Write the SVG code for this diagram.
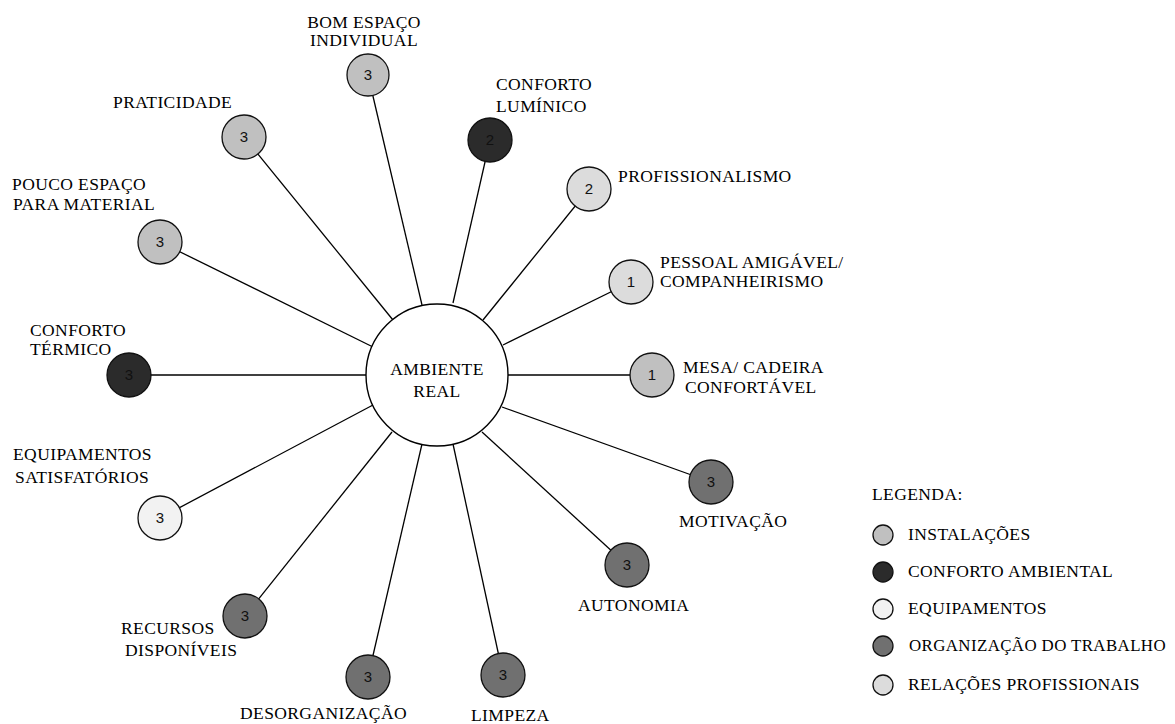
<svg xmlns="http://www.w3.org/2000/svg" width="1175" height="724" viewBox="0 0 1175 724">
  <style>
    .lbl { font-family: "Liberation Serif", "Times New Roman", serif; font-size: 17.5px; letter-spacing: 0.4px; fill: #000; }
    .num { font-family: "Liberation Sans", Arial, sans-serif; font-size: 15px; fill: #111; text-anchor: middle; }
    .node { stroke: #111; stroke-width: 1.3; }
    .inst { fill: #c0c0c0; }
    .conf { fill: #2b2b2b; }
    .equi { fill: #f2f2f2; }
    .orga { fill: #707070; }
    .rela { fill: #dcdcdc; }
    .link { stroke: #000; stroke-width: 1.3; fill: none; }
    .mid { text-anchor: middle; }
  </style>
  <rect width="1175" height="724" fill="#fff"/>

  <!-- spokes from the central circle to each factor -->
  <g id="connectors">
    <line class="link" x1="368" y1="75" x2="422" y2="305"/>
    <line class="link" x1="490" y1="140" x2="453" y2="303"/>
    <line class="link" x1="589" y1="189" x2="483" y2="320"/>
    <line class="link" x1="631" y1="282" x2="503" y2="345"/>
    <line class="link" x1="652" y1="375" x2="507" y2="375"/>
    <line class="link" x1="711" y1="482" x2="502" y2="407"/>
    <line class="link" x1="627" y1="565" x2="482" y2="432"/>
    <line class="link" x1="503" y1="675" x2="453" y2="444"/>
    <line class="link" x1="368" y1="677" x2="422" y2="444"/>
    <line class="link" x1="245" y1="616" x2="392" y2="432"/>
    <line class="link" x1="160" y1="518" x2="373" y2="405"/>
    <line class="link" x1="129" y1="375" x2="367" y2="375"/>
    <line class="link" x1="160" y1="242" x2="373" y2="347"/>
    <line class="link" x1="244" y1="137" x2="393" y2="320"/>
  </g>

  <g id="ambiente-real">
    <circle cx="437" cy="375" r="71" fill="#fff" stroke="#000" stroke-width="1.4"/>
    <text class="lbl mid" x="437" y="375">AMBIENTE</text>
    <text class="lbl mid" x="437" y="397">REAL</text>
  </g>

  <g id="bom-espaco">
    <circle class="node inst" cx="368" cy="75" r="21"/>
    <text class="num" x="368" y="80">3</text>
    <text class="lbl mid" x="364" y="28">BOM ESPAÇO</text>
    <text class="lbl mid" x="364" y="46">INDIVIDUAL</text>
  </g>

  <g id="conforto-luminico">
    <circle class="node conf" cx="490" cy="140" r="22"/>
    <text class="num" x="490" y="145">2</text>
    <text class="lbl" x="496" y="90">CONFORTO</text>
    <text class="lbl" x="496" y="112">LUMÍNICO</text>
  </g>

  <g id="profissionalismo">
    <circle class="node rela" cx="589" cy="189" r="22"/>
    <text class="num" x="589" y="194">2</text>
    <text class="lbl" x="618" y="182">PROFISSIONALISMO</text>
  </g>

  <g id="pessoal-amigavel">
    <circle class="node rela" cx="631" cy="282" r="22"/>
    <text class="num" x="631" y="287">1</text>
    <text class="lbl" x="660" y="268">PESSOAL AMIGÁVEL/</text>
    <text class="lbl" x="660" y="287">COMPANHEIRISMO</text>
  </g>

  <g id="mesa-cadeira">
    <circle class="node inst" cx="652" cy="375" r="22"/>
    <text class="num" x="652" y="380">1</text>
    <text class="lbl" x="683" y="373">MESA/ CADEIRA</text>
    <text class="lbl" x="685" y="393">CONFORTÁVEL</text>
  </g>

  <g id="motivacao">
    <circle class="node orga" cx="711" cy="482" r="22"/>
    <text class="num" x="711" y="487">3</text>
    <text class="lbl" x="679" y="527">MOTIVAÇÃO</text>
  </g>

  <g id="autonomia">
    <circle class="node orga" cx="627" cy="565" r="22"/>
    <text class="num" x="627" y="570">3</text>
    <text class="lbl" x="578" y="611">AUTONOMIA</text>
  </g>

  <g id="limpeza">
    <circle class="node orga" cx="503" cy="675" r="22"/>
    <text class="num" x="503" y="680">3</text>
    <text class="lbl" x="471" y="721">LIMPEZA</text>
  </g>

  <g id="desorganizacao">
    <circle class="node orga" cx="368" cy="677" r="22"/>
    <text class="num" x="368" y="682">3</text>
    <text class="lbl" x="240" y="719">DESORGANIZAÇÃO</text>
  </g>

  <g id="recursos-disponiveis">
    <circle class="node orga" cx="245" cy="616" r="22"/>
    <text class="num" x="245" y="621">3</text>
    <text class="lbl" x="121" y="634">RECURSOS</text>
    <text class="lbl" x="125" y="656">DISPONÍVEIS</text>
  </g>

  <g id="equipamentos-satisfatorios">
    <circle class="node equi" cx="160" cy="518" r="22"/>
    <text class="num" x="160" y="523">3</text>
    <text class="lbl" x="13" y="460">EQUIPAMENTOS</text>
    <text class="lbl" x="15" y="483">SATISFATÓRIOS</text>
  </g>

  <g id="conforto-termico">
    <circle class="node conf" cx="129" cy="375" r="22"/>
    <text class="num" x="129" y="380">3</text>
    <text class="lbl" x="30" y="336">CONFORTO</text>
    <text class="lbl" x="30" y="355">TÉRMICO</text>
  </g>

  <g id="pouco-espaco">
    <circle class="node inst" cx="160" cy="242" r="22"/>
    <text class="num" x="160" y="247">3</text>
    <text class="lbl" x="12" y="190">POUCO ESPAÇO</text>
    <text class="lbl" x="13" y="210">PARA MATERIAL</text>
  </g>

  <g id="praticidade">
    <circle class="node inst" cx="244" cy="137" r="22"/>
    <text class="num" x="244" y="142">3</text>
    <text class="lbl" x="113" y="108">PRATICIDADE</text>
  </g>

  <g id="legenda">
    <text class="lbl" x="872" y="500">LEGENDA:</text>
    <circle class="node inst" cx="883" cy="535" r="10"/>
    <text class="lbl" x="908" y="540">INSTALAÇÕES</text>
    <circle class="node conf" cx="883" cy="572" r="10"/>
    <text class="lbl" x="908" y="577">CONFORTO AMBIENTAL</text>
    <circle class="node equi" cx="883" cy="609" r="10"/>
    <text class="lbl" x="908" y="614">EQUIPAMENTOS</text>
    <circle class="node orga" cx="883" cy="646" r="10"/>
    <text class="lbl" x="909" y="651" textLength="257" lengthAdjust="spacingAndGlyphs">ORGANIZAÇÃO DO TRABALHO</text>
    <circle class="node rela" cx="883" cy="685" r="10"/>
    <text class="lbl" x="908" y="690">RELAÇÕES PROFISSIONAIS</text>
  </g>
</svg>
